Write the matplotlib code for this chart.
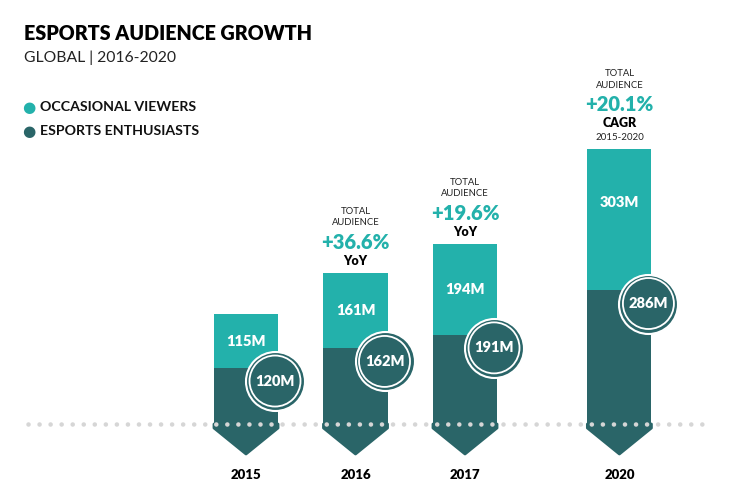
import numpy as np
import matplotlib.pyplot as plt
from matplotlib.patches import Polygon

# Datos
years = ['2015', '2016', '2017', '2020']
xpos = [0, 1, 2, 3.41]
enthusiasts = [120, 162, 191, 286]
occasional = [115, 161, 194, 303]
growth = [None, '+36.6%', '+19.6%', '+20.1%']
growth_kind = [None, 'YoY', 'YoY', 'CAGR']
growth_period = [None, None, None, '2015-2020']

TEAL = '#23b1ab'
DARK = '#2a6568'
PX = 0.467  # pixeles por millon
FONT = 'Lato'

fig = plt.figure(figsize=(7.34, 5.04), dpi=100)
ax = fig.add_axes([0, 0, 1, 1])
ax.set_xlim(-246 / 109.5, (734 - 246) / 109.5)
ax.set_ylim(-(504 - 424) / PX, 424 / PX)
ax.axis('off')

w = 0.585
px2pt = 0.72

# Barras apiladas
ax.bar(xpos, enthusiasts, width=w, color=DARK, zorder=2)
ax.bar(xpos, occasional, width=w, bottom=enthusiasts, color=TEAL, zorder=2)

# Flecha bajo la linea base
for x in xpos:
    pts = [(x - w / 2, 0), (x + w / 2, 0), (x + w / 2, -4 / PX),
           (x, -30 / PX), (x - w / 2, -4 / PX)]
    ax.add_patch(Polygon(pts, closed=True, facecolor=DARK, edgecolor=DARK,
                         lw=2, joinstyle='round', zorder=2))

# Linea punteada
ax.plot([-1.99, 4.24], [0, 0], ls=(0, (0.01, 2.4)), lw=3.3,
        dash_capstyle='round', color='#d6d6d6', zorder=3)

for i, x in enumerate(xpos):
    total = enthusiasts[i] + occasional[i]
    # etiqueta ocasionales
    ly = total - min(occasional[i] / 2, 115)
    ax.text(x, ly, f'{occasional[i]}M', ha='center', va='center', color='white',
            fontsize=10.5, fontweight='heavy', family=FONT, zorder=5)
    # circulo entusiastas
    cx, cy = x + 0.265, enthusiasts[i] - 28
    ax.scatter([cx], [cy], s=(2 * 29.5 * px2pt) ** 2, color=DARK, edgecolor='white',
               linewidth=1.5, zorder=4)
    ax.scatter([cx], [cy], s=(2 * 25.5 * px2pt) ** 2, facecolor='none',
               edgecolor='white', linewidth=1.3, zorder=4)
    ax.text(cx, cy, f'{enthusiasts[i]}M', ha='center', va='center', color='white',
            fontsize=10.5, fontweight='heavy', family=FONT, zorder=5)
    # anio
    ax.text(x, -(475 - 424) / PX, years[i], ha='center', va='center', color='black',
            fontsize=9.5, fontweight='heavy', family=FONT)
    # crecimiento
    if growth[i] is not None:
        if growth_period[i] is None:
            offs = [12, 31, 51, 62]
        else:
            ax.annotate(growth_period[i], (x, total), xytext=(0, 11 * px2pt),
                        textcoords='offset points', ha='center', va='center',
                        fontsize=7, family=FONT, color='#222222')
            offs = [26, 44, 63, 75]
        ax.annotate(growth_kind[i], (x, total), xytext=(0, offs[0] * px2pt),
                    textcoords='offset points', ha='center', va='center',
                    fontsize=9, fontweight='heavy', family=FONT, color='black')
        ax.annotate(growth[i], (x, total), xytext=(0, offs[1] * px2pt),
                    textcoords='offset points', ha='center', va='center',
                    fontsize=14.5, fontweight='heavy', family=FONT, color=TEAL)
        ax.annotate('AUDIENCE', (x, total), xytext=(0, offs[2] * px2pt),
                    textcoords='offset points', ha='center', va='center',
                    fontsize=6.8, family=FONT, color='#222222')
        ax.annotate('TOTAL', (x, total), xytext=(0, offs[3] * px2pt),
                    textcoords='offset points', ha='center', va='center',
                    fontsize=6.8, family=FONT, color='#222222')

# Titulos
fig.text(24 / 734, 1 - 33 / 504, 'ESPORTS AUDIENCE GROWTH', ha='left', va='center',
         fontsize=14.2, fontweight='heavy', family=FONT, color='black')
fig.text(24 / 734, 1 - 58 / 504, 'GLOBAL | 2016-2020', ha='left', va='center',
         fontsize=11.3, family=FONT, color='#222222')

# Leyenda
for yy, lab, col in [(107, 'OCCASIONAL VIEWERS', TEAL), (131, 'ESPORTS ENTHUSIASTS', DARK)]:
    fig.text(29 / 734, 1 - yy / 504, '\u25CF', ha='center', va='center',
             fontsize=11, color=col, family='DejaVu Sans')
    fig.text(40 / 734, 1 - yy / 504, lab, ha='left', va='center',
             fontsize=10.2, fontweight='bold', family=FONT, color='#111111')

fig.savefig('out.png', dpi=100)
